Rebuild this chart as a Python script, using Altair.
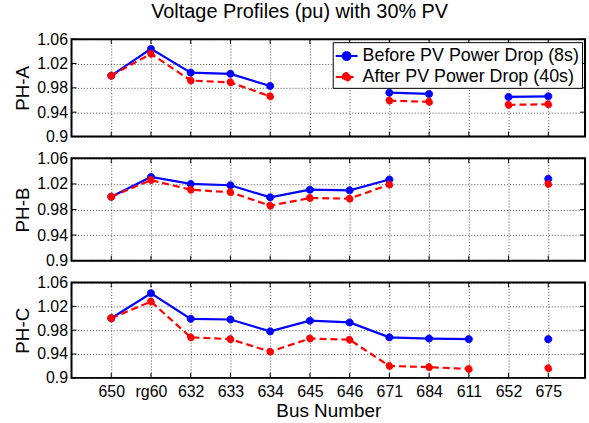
import altair as alt
import pandas as pd

cats = ["650", "rg60", "632", "633", "634", "645", "646", "671", "684", "611", "652", "675"]
series_names = ["Before PV Power Drop (8s)", "After PV Power Drop (40s)"]

A_before = [1.000, 1.044, 1.005, 1.003, 0.983, None, None, 0.972, 0.970, None, 0.965, 0.966]
A_after = [1.000, 1.036, 0.992, 0.989, 0.966, None, None, 0.959, 0.957, None, 0.952, 0.953]
B_before = [1.000, 1.031, 1.020, 1.018, 0.999, 1.011, 1.010, 1.027, None, None, None, 1.028]
B_after = [1.000, 1.026, 1.011, 1.007, 0.986, 0.998, 0.997, 1.019, None, None, None, 1.020]
C_before = [1.000, 1.042, 0.999, 0.998, 0.978, 0.996, 0.993, 0.968, 0.966, 0.965, None, 0.965]
C_after = [1.000, 1.028, 0.968, 0.965, 0.944, 0.966, 0.964, 0.920, 0.918, 0.915, None, 0.916]

y_ticks = [0.9, 0.94, 0.98, 1.02, 1.06]

FONT = "Liberation Sans"
BLUE = "#0000FF"
RED = "#FF0000"
W = 517


def panel_df(before, after):
    rows = []
    for name, vals in zip(series_names, [before, after]):
        run = 0
        prev_null = True
        for i, v in enumerate(vals):
            if v is None:
                prev_null = True
                continue
            if prev_null:
                run += 1
                prev_null = False
            rows.append({"idx": i + 1, "value": v, "series": name, "run": f"{name}-{run}"})
    return pd.DataFrame(rows)


label_expr = "[" + ",".join(f"'{c}'" for c in cats) + "][datum.value - 1]"
tick_df = pd.DataFrame({"idx": list(range(1, len(cats) + 1))})
ytick_df = pd.DataFrame({"value": y_ticks})


def panel(title, before, after, height, show_legend, show_x):
    df = panel_df(before, after)
    x_enc = alt.X(
        "idx:Q",
        scale=alt.Scale(domain=[0, 12.925], nice=False, zero=False),
        axis=alt.Axis(
            values=list(range(1, len(cats) + 1)),
            labels=show_x,
            labelExpr=label_expr,
            title="Bus Number" if show_x else None,
            ticks=False,
            domain=False,
            grid=True,
            labelFontSize=16,
            labelPadding=6,
            titleFontSize=19,
            titlePadding=2,
            titleFontWeight="normal",
        ),
    )
    y_enc = alt.Y(
        "value:Q",
        scale=alt.Scale(domain=[0.9, 1.06], nice=False, zero=False),
        axis=alt.Axis(
            values=y_ticks,
            format="~g",
            title=title,
            ticks=False,
            domain=False,
            grid=True,
            labelFontSize=16,
            labelPadding=4,
            titleFontSize=19,
            titlePadding=4,
            titleFontWeight="normal",
        ),
    )
    base = alt.Chart(df)
    line_b = base.transform_filter(alt.datum.series == series_names[0]).mark_line(
        color=BLUE, strokeWidth=2.2
    ).encode(x=x_enc, y=y_enc, detail="run:N")
    line_a = base.transform_filter(alt.datum.series == series_names[1]).mark_line(
        color=RED, strokeWidth=2.2, strokeDash=[7, 4]
    ).encode(x=x_enc, y=y_enc, detail="run:N")

    if show_legend:
        leg = alt.Legend(
            title=None,
            orient="top-right",
            offset=3,
            fillColor="white",
            strokeColor="black",
            padding=2,
            rowPadding=0,
            labelFontSize=18,
            labelFont=FONT,
            labelColor="black",
            labelOffset=4,
            labelLimit=0,
            symbolType="M-1,0H1M-0.36,0A0.36,0.36,0,1,1,0.36,0A0.36,0.36,0,1,1,-0.36,0Z",
            symbolSize=484,
            symbolStrokeWidth=2,
            symbolOpacity=1,
        )
    else:
        leg = None
    sc_col = alt.Scale(domain=series_names, range=[BLUE, RED])
    sc_dash = alt.Scale(domain=series_names, range=[[1, 0], [7, 4]])
    pts = base.mark_point(filled=True, size=50, strokeWidth=1, opacity=1).encode(
        x=x_enc,
        y=y_enc,
        fill=alt.Fill("series:N", scale=sc_col, legend=leg, sort=series_names),
        stroke=alt.Stroke("series:N", scale=sc_col, legend=leg, sort=series_names),
        strokeDash=alt.StrokeDash("series:N", scale=sc_dash, legend=leg, sort=series_names),
    )
    xt_top = alt.Chart(tick_df).mark_rule(color="black", strokeWidth=1).encode(
        x=x_enc, y=alt.value(0), y2=alt.value(5)
    )
    xt_bot = alt.Chart(tick_df).mark_rule(color="black", strokeWidth=1).encode(
        x=x_enc, y=alt.value(height), y2=alt.value(height - 5)
    )
    yt_l = alt.Chart(ytick_df).mark_rule(color="black", strokeWidth=1).encode(
        y=y_enc, x=alt.value(0), x2=alt.value(5)
    )
    yt_r = alt.Chart(ytick_df).mark_rule(color="black", strokeWidth=1).encode(
        y=y_enc, x=alt.value(W), x2=alt.value(W - 5)
    )
    return alt.layer(xt_top, xt_bot, yt_l, yt_r, line_b, line_a, pts).properties(
        width=W, height=height
    )


pA = panel("PH-A", A_before, A_after, 98, True, False)
pB = panel("PH-B", B_before, B_after, 103, False, False)
pC = panel("PH-C", C_before, C_after, 96, False, True)

chart = (
    alt.vconcat(pA, pB, pC, spacing=22, bounds="flush")
    .resolve_scale(fill="independent", stroke="independent", strokeDash="independent")
    .resolve_legend(fill="independent", stroke="independent", strokeDash="independent")
    .properties(
        title=alt.TitleParams(
            "Voltage Profiles (pu) with 30% PV",
            fontSize=20,
            font=FONT,
            fontWeight="normal",
            anchor="middle",
            offset=8,
            dx=0,
        ),
        padding={"left": 12, "top": 1, "right": 2, "bottom": 0},
        background="white",
    )
    .configure_view(stroke="black", strokeWidth=2)
    .configure_axis(
        labelFont=FONT,
        titleFont=FONT,
        labelColor="black",
        titleColor="black",
        gridColor="#000000",
        gridDash=[1, 2],
        gridOpacity=0.7,
        gridWidth=1,
    )
)

chart.save("out.html", embed_options={"renderer": "svg", "actions": False})
